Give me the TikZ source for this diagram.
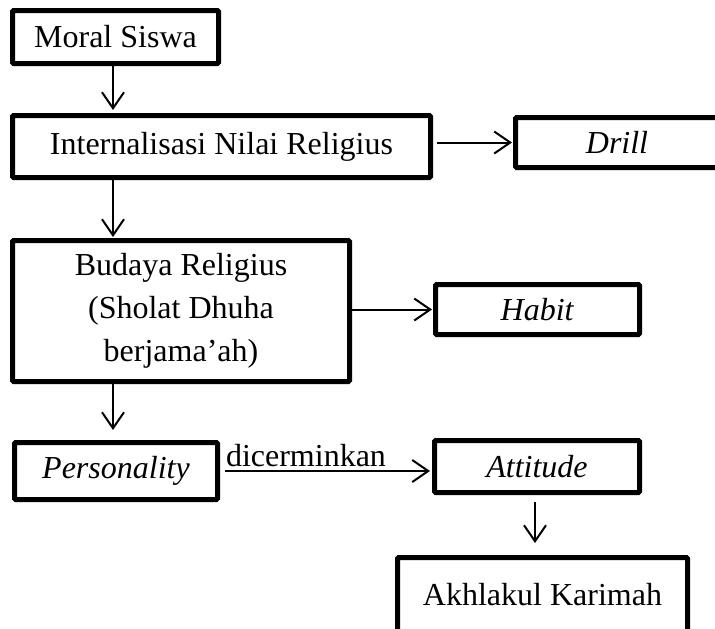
\documentclass[tikz,border=0pt]{standalone}
\usepackage{fontspec}
\setmainfont{Liberation Serif}
\usetikzlibrary{arrows.meta}

\begin{document}
\begin{tikzpicture}[x=0.5pt, y=-0.5pt,
  box/.style={draw, line width=2.5pt, rounded corners=0.6pt, inner sep=0pt, align=center, font=\fontsize{16}{21.5}\selectfont},
  arr/.style={line width=1pt, -{Straight Barb[length=8pt,width=11pt,line width=1pt]}}]
\useasboundingbox (0,0) rectangle (715,628);
\clip (0,0) rectangle (715,628);
\coordinate (colA) at (113,0);
\coordinate (colB) at (535,0);
\node[box, minimum width=103pt, minimum height=26.5pt] (moral) at (115.5,37) {Moral Siswa};
\node[box, minimum width=209pt, minimum height=31pt] (intern) at (221.5,146.5) {Internalisasi Nilai Religius};
\node[box, minimum width=101.5pt, minimum height=25pt] (drill) at (617,142.5) {\textit{Drill}};
\node[box, minimum width=168.5pt, minimum height=70.5pt] (budaya) at (181,311) {Budaya Religius\\(Sholat Dhuha\\berjama’ah)};
\node[box, minimum width=102pt, minimum height=25pt] (habit) at (537.5,309.5) {\textit{Habit}};
\node[box, minimum width=101.5pt, minimum height=28.5pt] (person) at (116,471) {\textit{Personality}};
\node[box, minimum width=102.5pt, minimum height=26pt] (att) at (537,466.5) {\textit{Attitude}};
\node[box, minimum width=145pt, minimum height=40pt] (akhlak) at (542.5,597.5) {\raisebox{3.5pt}{Akhlakul Karimah}};
% arrows
\draw[arr, shorten >=1.5pt] (moral.south -| colA) -- (intern.north -| colA);
\draw[arr, shorten <=2pt, shorten >=0.5pt] (intern.east |- drill.west) -- (drill.west);
\draw[arr, shorten >=0.5pt] (intern.south -| colA) -- (budaya.north -| colA);
\draw[arr, shorten >=0.5pt] (budaya.east |- habit.west) -- (habit.west);
\draw[arr, shorten >=5pt] (budaya.south -| colA) -- (person.north -| colA);
\draw[arr, shorten <=2.5pt, shorten >=1pt] (person.east) -- (person.east -| att.west)
  node[pos=0, anchor=south west, inner sep=0pt, xshift=2.5pt, yshift=1.5pt, font=\fontsize{16}{19}\selectfont] (dicer) {dicerminkan};
\draw[arr, shorten <=3.5pt, shorten >=6pt] (att.south -| colB) -- (akhlak.north -| colB);
\end{tikzpicture}
\end{document}
